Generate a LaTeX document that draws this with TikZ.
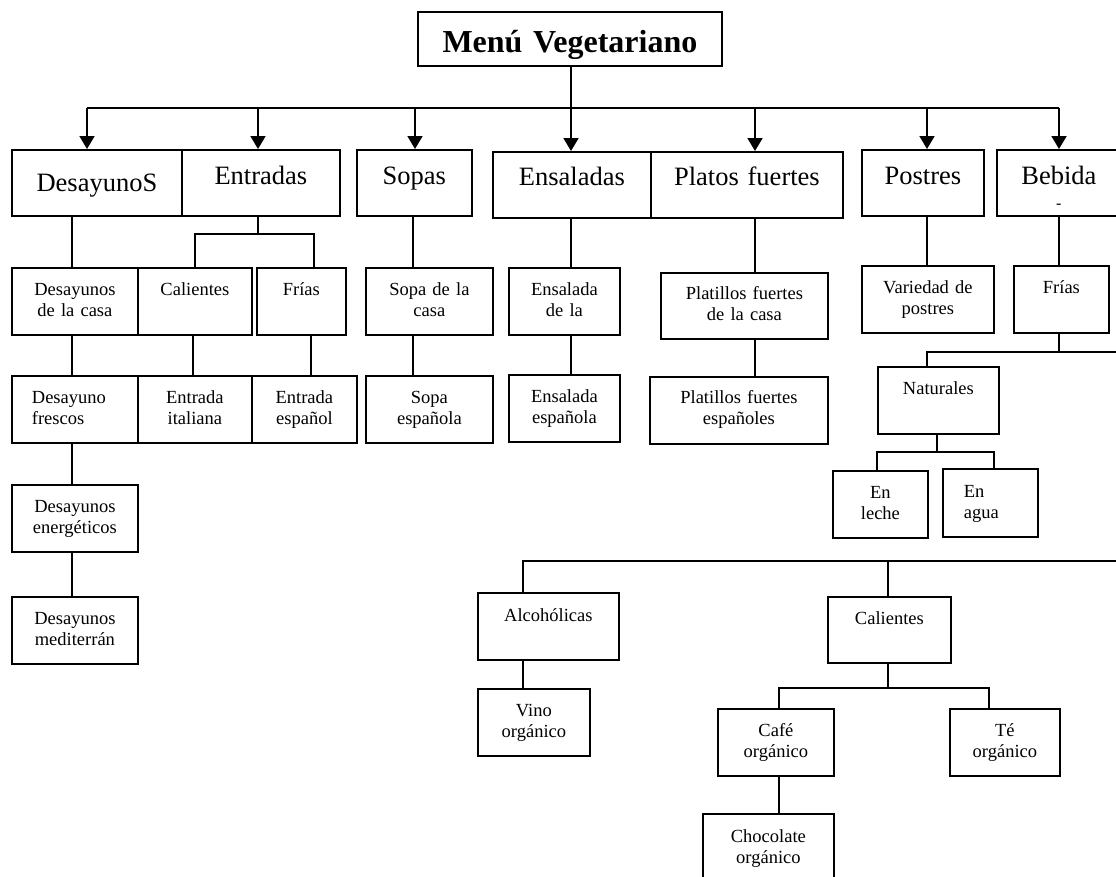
\documentclass[tikz,border=0pt]{standalone}
\usepackage{fontspec}
\setmainfont{Liberation Serif}
\usetikzlibrary{arrows.meta}
\tikzset{
  bx/.style={draw, line width=1.8pt, anchor=north west, inner xsep=0pt, inner ysep=0pt,
    align=center, font=\fontsize{18.5}{21}\selectfont, text height=28pt, text depth=39pt},
  big/.style={font=\fontsize{26.5}{30.5}\selectfont, text height=35pt, text depth=31pt},
  ln/.style={line width=1.8pt},
  arr/.style={line width=1.8pt, -{Triangle[length=13pt,width=15pt]}},
}
\begin{document}
\begin{tikzpicture}[x=1pt,y=-1pt]
\useasboundingbox (0,0) rectangle (1116,876);
\fill[white] (0,0) rectangle (1116,876);
\clip (0,0) rectangle (1116,876);

% title
\node[bx, font=\fontsize{32}{36}\selectfont\bfseries, text width=304pt, text height=41pt, text depth=13pt] (title) at (417,11) {Menú Vegetariano};

% level 1
\node[bx,big,text width=170pt,text height=42pt,text depth=24pt] (des1) at (11,149) {DesayunoS};
\node[bx,big,text width=158pt] (ent1) at (181,149) {Entradas};
\node[bx,big,text width=115pt] (sop1) at (356,149) {Sopas};
\node[bx,big,text width=158pt,text height=34pt,text depth=32pt] (ens1) at (492,151) {Ensaladas};
\node[bx,big,text width=192pt,text height=34pt,text depth=32pt] (pla1) at (650,151) {Platos fuertes};
\node[bx,big,text width=122pt] (pos1) at (861,149) {Postres};
\node[bx,big,text width=124pt] (beb1) at (996,149) {Bebida\\[-7pt]{\fontsize{16}{16}\selectfont -}};

% row 2
\node[bx,text width=126pt] (dcasa) at (11,267) {Desayunos\\de la casa};
\node[bx,text width=114pt] (cal) at (137,267) {Calientes};
\node[bx,text width=89pt] (fri) at (256,267) {Frías};
\node[bx,text width=127pt] (scasa) at (365,267) {Sopa de la\\casa};
\node[bx,text width=111pt] (ecasa) at (508,267) {Ensalada\\de la};
\node[bx,text width=167pt,text height=27pt] (pcasa) at (660,272) {Platillos fuertes\\de la casa};
\node[bx,text width=132pt] (vpos) at (861,265) {Variedad de\\postres};
\node[bx,text width=95pt] (bfri) at (1013,265) {Frías};

% row 3
\node[bx,text width=86pt,inner xsep=20pt,align=left] (dfre) at (11,375) {Desayuno\\frescos};
\node[bx,text width=114pt] (eita) at (137,375) {Entrada\\italiana};
\node[bx,text width=105pt] (eesp) at (251,375) {Entrada\\español};
\node[bx,text width=127pt] (sesp) at (365,375) {Sopa\\española};
\node[bx,text width=111pt] (ensp) at (508,374) {Ensalada\\española};
\node[bx,text width=178pt,text height=27pt,text depth=40pt] (pesp) at (649,376) {Platillos fuertes\\españoles};
\node[bx,text width=121pt] (nat) at (877,366) {Naturales};

% row 4
\node[bx,text width=126pt] (dene) at (11,484) {Desayunos\\energéticos};
\node[bx,text width=95pt] (leche) at (832,470) {En\\leche};
\node[bx,text width=53pt,inner xsep=21pt,align=left,text height=29pt] (agua) at (942,468) {En\\agua};

% row 5 and below
\node[bx,text width=126pt] (dmed) at (11,596) {Desayunos\\mediterrán};
\node[bx,text width=141pt,text height=29pt,text depth=38pt] (alc) at (477,592) {Alcohólicas};
\node[bx,text width=123pt,text depth=38pt] (bcal) at (827,596) {Calientes};
\node[bx,text width=112pt] (vino) at (477,688) {Vino\\orgánico};
\node[bx,text width=116pt] (cafe) at (717,708) {Café\\orgánico};
\node[bx,text width=110pt] (te) at (949,708) {Té\\orgánico};
\node[bx,text width=131pt,text height=29pt] (choc) at (702,813) {Chocolate\\orgánico};

% bus and arrows
\coordinate (a1) at (87,108);
\coordinate (a2) at (258,108);
\coordinate (a3) at (415,108);
\coordinate (a4) at (571,108);
\coordinate (a5) at (755,108);
\coordinate (a6) at (927,108);
\coordinate (a7) at (1059,108);
\draw[ln] (a4 |- title.south) -- (a4);
\draw[ln] (a1) -- (a7);
\draw[arr] (a1) -- (a1 |- des1.north);
\draw[arr] (a2) -- (a2 |- ent1.north);
\draw[arr] (a3) -- (a3 |- sop1.north);
\draw[arr] (a4) -- (a4 |- ens1.north);
\draw[arr] (a5) -- (a5 |- pla1.north);
\draw[arr] (a6) -- (a6 |- pos1.north);
\draw[arr] (a7) -- (a7 |- beb1.north);

% desayunos chain
\coordinate (dx) at (72,0);
\draw[ln] (dx |- des1.south) -- (dx |- dcasa.north);
\draw[ln] (dx |- dcasa.south) -- (dx |- dfre.north);
\draw[ln] (dx |- dfre.south) -- (dx |- dene.north);
\draw[ln] (dx |- dene.south) -- (dx |- dmed.north);

% entradas
\coordinate (ebL) at (195,234);
\coordinate (ebR) at (314,234);
\draw[ln] (a2 |- ent1.south) -- (a2 |- ebL);
\draw[ln] (ebL |- cal.north) -- (ebL) -- (ebR) -- (ebR |- fri.north);
\coordinate (cx) at (193,0);
\coordinate (fx) at (311,0);
\draw[ln] (cx |- cal.south) -- (cx |- eita.north);
\draw[ln] (fx |- fri.south) -- (fx |- eesp.north);

% sopas
\coordinate (sx) at (413,0);
\draw[ln] (sx |- sop1.south) -- (sx |- scasa.north);
\draw[ln] (sx |- scasa.south) -- (sx |- sesp.north);

% ensaladas
\draw[ln] (a4 |- ens1.south) -- (a4 |- ecasa.north);
\draw[ln] (a4 |- ecasa.south) -- (a4 |- ensp.north);

% platos fuertes
\draw[ln] (a5 |- pla1.south) -- (a5 |- pcasa.north);
\draw[ln] (a5 |- pcasa.south) -- (a5 |- pesp.north);

% postres
\draw[ln] (a6 |- pos1.south) -- (a6 |- vpos.north);

% bebida
\coordinate (h1L) at (927,352);
\coordinate (h1R) at (1122,352);
\draw[ln] (a7 |- beb1.south) -- (a7 |- bfri.north);
\draw[ln] (a7 |- bfri.south) -- (a7 |- h1L);
\draw[ln] (h1R) -- (h1L) -- (h1L |- nat.north);
\coordinate (nbL) at (877,452);
\coordinate (nbR) at (994,452);
\coordinate (nx) at (937,0);
\draw[ln] (nx |- nat.south) -- (nx |- nbL);
\draw[ln] (nbL |- leche.north) -- (nbL) -- (nbR) -- (nbR |- agua.north);

\coordinate (h2L) at (523,561);
\coordinate (h2R) at (1122,561);
\coordinate (hx) at (888,0);
\draw[ln] (h2R) -- (h2L) -- (h2L |- alc.north);
\draw[ln] (hx |- h2L) -- (hx |- bcal.north);
\draw[ln] (h2L |- alc.south) -- (h2L |- vino.north);
\coordinate (cbL) at (779,688);
\coordinate (cbR) at (989,688);
\draw[ln] (hx |- bcal.south) -- (hx |- cbL);
\draw[ln] (cbL |- cafe.north) -- (cbL) -- (cbR) -- (cbR |- te.north);
\draw[ln] (cbL |- cafe.south) -- (cbL |- choc.north);
\end{tikzpicture}
\end{document}
